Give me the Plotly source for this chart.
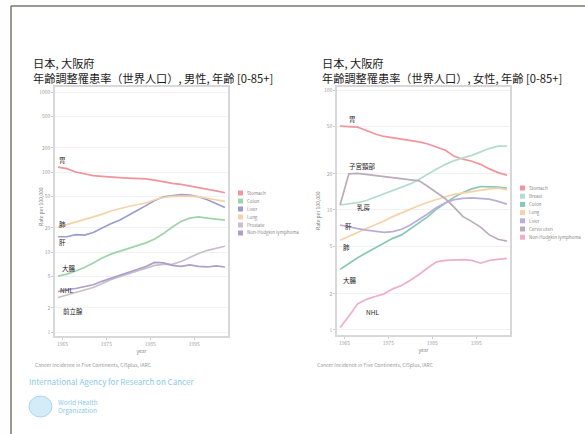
import plotly.graph_objects as go

# ---------------- data ----------------
YEARS = [1964, 1966, 1968, 1970, 1972, 1974, 1976, 1978, 1980, 1982,
         1984, 1986, 1988, 1990, 1992, 1994, 1996, 1998, 2000, 2002]
X_TICKS = [1965, 1975, 1985, 1995]
Y_TICKS_M = [1, 2, 5, 10, 20, 50, 100, 200, 500, 1000]
Y_TICKS_F = [1, 2, 5, 10, 20, 50, 100]

MALE_NAMES = ["Stomach", "Colon", "Liver", "Lung", "Prostate", "Non-Hodgkin lymphoma"]
STOMACH_M = [115, 110, 100, 95, 90, 88, 86, 85, 84, 83, 82, 79, 75, 72, 70, 67, 64, 61, 58, 55]
COLON_M = [5.0, 5.3, 5.8, 6.4, 7.3, 8.4, 9.4, 10.2, 11.0, 12.0, 13.0, 14.5, 17.0, 20.5, 24.0, 26.5, 27.5, 26.5, 26.0, 25.0]
LIVER_M = [15.5, 15.5, 16.5, 16.3, 17.5, 20, 22.5, 25, 29, 33, 38, 44, 49, 51, 52, 51.5, 49, 45, 40, 36]
LUNG_M = [20.5, 22, 23.5, 25.5, 27.5, 29.5, 32.5, 35, 37, 39, 41, 45, 48, 49.5, 50, 50, 49, 47, 45, 43]
PROSTATE_M = [2.7, 2.9, 3.1, 3.3, 3.6, 4.0, 4.5, 4.9, 5.3, 5.8, 6.3, 6.8, 7.0, 7.0, 7.6, 8.6, 9.6, 10.5, 11.2, 11.8]
NHL_M = [3.2, 3.4, 3.5, 3.7, 3.9, 4.3, 4.7, 5.1, 5.5, 6.0, 6.6, 7.4, 7.3, 6.8, 6.6, 6.9, 6.6, 6.5, 6.7, 6.5]
MALE_SERIES = [STOMACH_M, COLON_M, LIVER_M, LUNG_M, PROSTATE_M, NHL_M]
MALE_COLORS = ["#f0959c", "#9fd4aa", "#9b9ecd", "#f6d2a8", "#c8bfcb", "#ae9ec9"]

FEMALE_NAMES = ["Stomach", "Breast", "Colon", "Lung", "Liver", "Cervix uteri", "Non-Hodgkin lymphoma"]
STOMACH_F = [50, 49.5, 49, 46, 43, 41, 40, 39, 38, 37, 35.5, 33.5, 31.5, 28, 26.5, 25.5, 24, 22, 20.5, 19.5]
BREAST_F = [11.0, 11.2, 11.5, 12.0, 12.8, 13.5, 14.5, 15.5, 16.5, 18.0, 20.0, 22.0, 24.0, 25.8, 27.2, 28.5, 30.5, 32.5, 34.0, 34.0]
COLON_F = [3.2, 3.6, 4.0, 4.4, 4.8, 5.3, 5.8, 6.2, 7.0, 7.9, 8.8, 10.2, 11.5, 12.8, 14.0, 15.0, 15.7, 15.7, 15.5, 15.2]
LUNG_F = [5.6, 6.0, 6.5, 7.0, 7.5, 8.1, 8.8, 9.5, 10.2, 10.9, 11.6, 12.3, 12.9, 13.5, 13.9, 14.3, 14.7, 15.0, 15.2, 14.8]
LIVER_F = [7.5, 7.2, 7.0, 6.8, 6.6, 6.5, 6.6, 6.9, 7.5, 8.3, 9.3, 10.5, 11.5, 12.2, 12.5, 12.6, 12.5, 12.3, 11.8, 11.2]
CERVIX_F = [11.0, 20.0, 20.2, 19.8, 19.4, 19.0, 18.6, 18.3, 18.0, 17.5, 15.7, 14.0, 12.4, 10.5, 8.8, 8.0, 7.2, 6.2, 5.7, 5.5]
NHL_F = [1.05, 1.3, 1.65, 1.8, 1.9, 2.0, 2.2, 2.35, 2.6, 2.9, 3.3, 3.7, 3.8, 3.85, 3.85, 3.8, 3.6, 3.8, 3.9, 3.95]
FEMALE_SERIES = [STOMACH_F, BREAST_F, COLON_F, LUNG_F, LIVER_F, CERVIX_F, NHL_F]
FEMALE_COLORS = ["#f0959c", "#b4dccc", "#86c8b3", "#f6d2a8", "#b9aedb", "#b9adbc", "#eeafcb"]

TITLE_LINE1 = "日本, 大阪府"
MALE_TITLE_LINE2 = "年齢調整罹患率（世界人口）, 男性, 年齢 [0-85+]"
FEMALE_TITLE_LINE2 = "年齢調整罹患率（世界人口）, 女性, 年齢 [0-85+]"
MALE_LABELS = ["胃", "肺", "肝", "大腸", "NHL", "前立腺"]
FEMALE_LABELS = ["胃", "子宮頸部", "乳房", "肝", "肺", "大腸", "NHL"]
Y_TITLE = "Rate per 100,000"
X_TITLE = "year"
CAPTION = "Cancer Incidence in Five Continents, CI5plus, IARC"
IARC = "International Agency for Research on Cancer"
WHO = "World Health<br>Organization"

# ---------------- layout helpers ----------------
W, H = 585, 434
FONT = "Noto Sans CJK JP"


def fx(p):
    return p / W


def fy(p):
    return 1 - p / H


fig = go.Figure()
for vals, name, col in zip(MALE_SERIES, MALE_NAMES, MALE_COLORS):
    fig.add_trace(go.Scatter(x=YEARS, y=vals, name=name, mode="lines",
                             line=dict(color=col, width=1.7), xaxis="x", yaxis="y",
                             showlegend=False))
for vals, name, col in zip(FEMALE_SERIES, FEMALE_NAMES, FEMALE_COLORS):
    fig.add_trace(go.Scatter(x=YEARS, y=vals, name=name, mode="lines",
                             line=dict(color=col, width=1.7), xaxis="x2", yaxis="y2",
                             showlegend=False))


def xaxis_def(dom, anchor):
    return dict(domain=dom, anchor=anchor, range=[1963.3, 2002.7], tickvals=X_TICKS,
                ticks="outside", ticklen=2, tickcolor="#cccccc",
                tickfont=dict(size=5, color="#a0a0a0", family=FONT),
                showgrid=False, zeroline=False, showline=True, mirror=True,
                linecolor="#d8d8d8", linewidth=1.5,
                title=dict(text=X_TITLE, font=dict(size=5, color="#8a8a8a", family=FONT), standoff=3))


def yaxis_def(dom, anchor, rng, ticks):
    return dict(domain=dom, anchor=anchor, type="log", range=rng, tickvals=ticks,
                ticktext=[str(t) for t in ticks],
                ticks="outside", ticklen=2, tickcolor="#cccccc",
                tickfont=dict(size=5, color="#a0a0a0", family=FONT),
                showgrid=True, gridcolor="#f1f1f1", gridwidth=1, zeroline=False,
                showline=True, mirror=True, linecolor="#d8d8d8", linewidth=1.5)


annotations = []
shapes = []

# titles (two separate lines)
for l2, x in [(MALE_TITLE_LINE2, 31), (FEMALE_TITLE_LINE2, 320)]:
    annotations.append(dict(text=TITLE_LINE1, x=fx(x), y=fy(63), xref="paper", yref="paper",
                            xanchor="left", yanchor="middle", showarrow=False,
                            font=dict(size=11.2, color="#1a1a1a", family=FONT)))
    annotations.append(dict(text=l2, x=fx(x), y=fy(77.5), xref="paper", yref="paper",
                            xanchor="left", yanchor="middle", showarrow=False,
                            font=dict(size=11.2, color="#1a1a1a", family=FONT)))

# line labels
male_label_pos = [(57, 160), (57, 224), (57, 242), (60, 268), (58, 290), (61, 311)]
female_label_pos = [(347, 119), (347, 166), (355, 207), (343, 226), (341, 247), (341, 280), (364, 312)]
for labels, poss in [(MALE_LABELS, male_label_pos), (FEMALE_LABELS, female_label_pos)]:
    for t, (x, y) in zip(labels, poss):
        annotations.append(dict(text=t, x=fx(x), y=fy(y), xref="paper", yref="paper",
                                xanchor="left", yanchor="middle", showarrow=False,
                                font=dict(size=6.5, color="#222222", family=FONT)))

# y titles
for x, y in [(35, 207), (318, 211)]:
    annotations.append(dict(text=Y_TITLE, x=fx(x), y=fy(y), xref="paper", yref="paper",
                            textangle=-90, showarrow=False,
                            font=dict(size=5, color="#7a7a7a", family=FONT)))

# captions
for x in [33, 315]:
    annotations.append(dict(text=CAPTION, x=fx(x), y=fy(365), xref="paper", yref="paper",
                            xanchor="left", yanchor="middle", showarrow=False,
                            font=dict(size=5, color="#9a9a9a", family=FONT)))

# IARC / WHO
annotations.append(dict(text=IARC, x=fx(27), y=fy(381), xref="paper", yref="paper",
                        xanchor="left", yanchor="middle", showarrow=False,
                        font=dict(size=8, color="#8cc9ea", family=FONT)))
annotations.append(dict(text=WHO, x=fx(56), y=fy(406), xref="paper", yref="paper",
                        xanchor="left", yanchor="middle", align="left", showarrow=False,
                        font=dict(size=6.5, color="#8cc9ea", family=FONT)))
shapes.append(dict(type="circle", xref="paper", yref="paper",
                   x0=fx(29), x1=fx(52), y0=fy(417), y1=fy(396),
                   fillcolor="#d4ecf8", line=dict(color="#a9d6f0", width=1)))

# manual legends
for names, cols, lx, ly0, step in [(MALE_NAMES, MALE_COLORS, 238, 193, 8),
                                   (FEMALE_NAMES, FEMALE_COLORS, 520, 188, 8.2)]:
    for i, (n, c) in enumerate(zip(names, cols)):
        yc = ly0 + i * step
        shapes.append(dict(type="rect", xref="paper", yref="paper",
                           x0=fx(lx), x1=fx(lx + 5), y0=fy(yc + 2.5), y1=fy(yc - 2.5),
                           fillcolor=c, line=dict(width=0)))
        annotations.append(dict(text=n, x=fx(lx + 6.5), y=fy(yc), xref="paper", yref="paper",
                                xanchor="left", yanchor="middle", showarrow=False,
                                font=dict(size=4.5, color="#8a8a8a", family=FONT)))

# outer frame
shapes.append(dict(type="line", xref="paper", yref="paper", x0=fx(11), x1=1.0,
                   y0=fy(6), y1=fy(6), line=dict(color="#7d746d", width=1.5)))
shapes.append(dict(type="line", xref="paper", yref="paper", x0=fx(11), x1=fx(11),
                   y0=fy(6), y1=0.0, line=dict(color="#7d746d", width=1.5)))

fig.update_layout(
    width=W, height=H, margin=dict(l=0, r=0, t=0, b=0),
    paper_bgcolor="white", plot_bgcolor="white", showlegend=False,
    font=dict(family=FONT),
    xaxis=xaxis_def([fx(55), fx(228)], "y"),
    yaxis=yaxis_def([fy(336), fy(87)], "x", [-0.05, 3.0625], Y_TICKS_M),
    xaxis2=xaxis_def([fx(337), fx(510)], "y2"),
    yaxis2=yaxis_def([fy(335), fy(87)], "x2", [-0.042, 2.025], Y_TICKS_F),
    annotations=annotations, shapes=shapes,
)

fig.write_html("out.html", config={"displayModeBar": False},
               post_script="document.body.style.margin='0';document.body.style.overflow='hidden';")
